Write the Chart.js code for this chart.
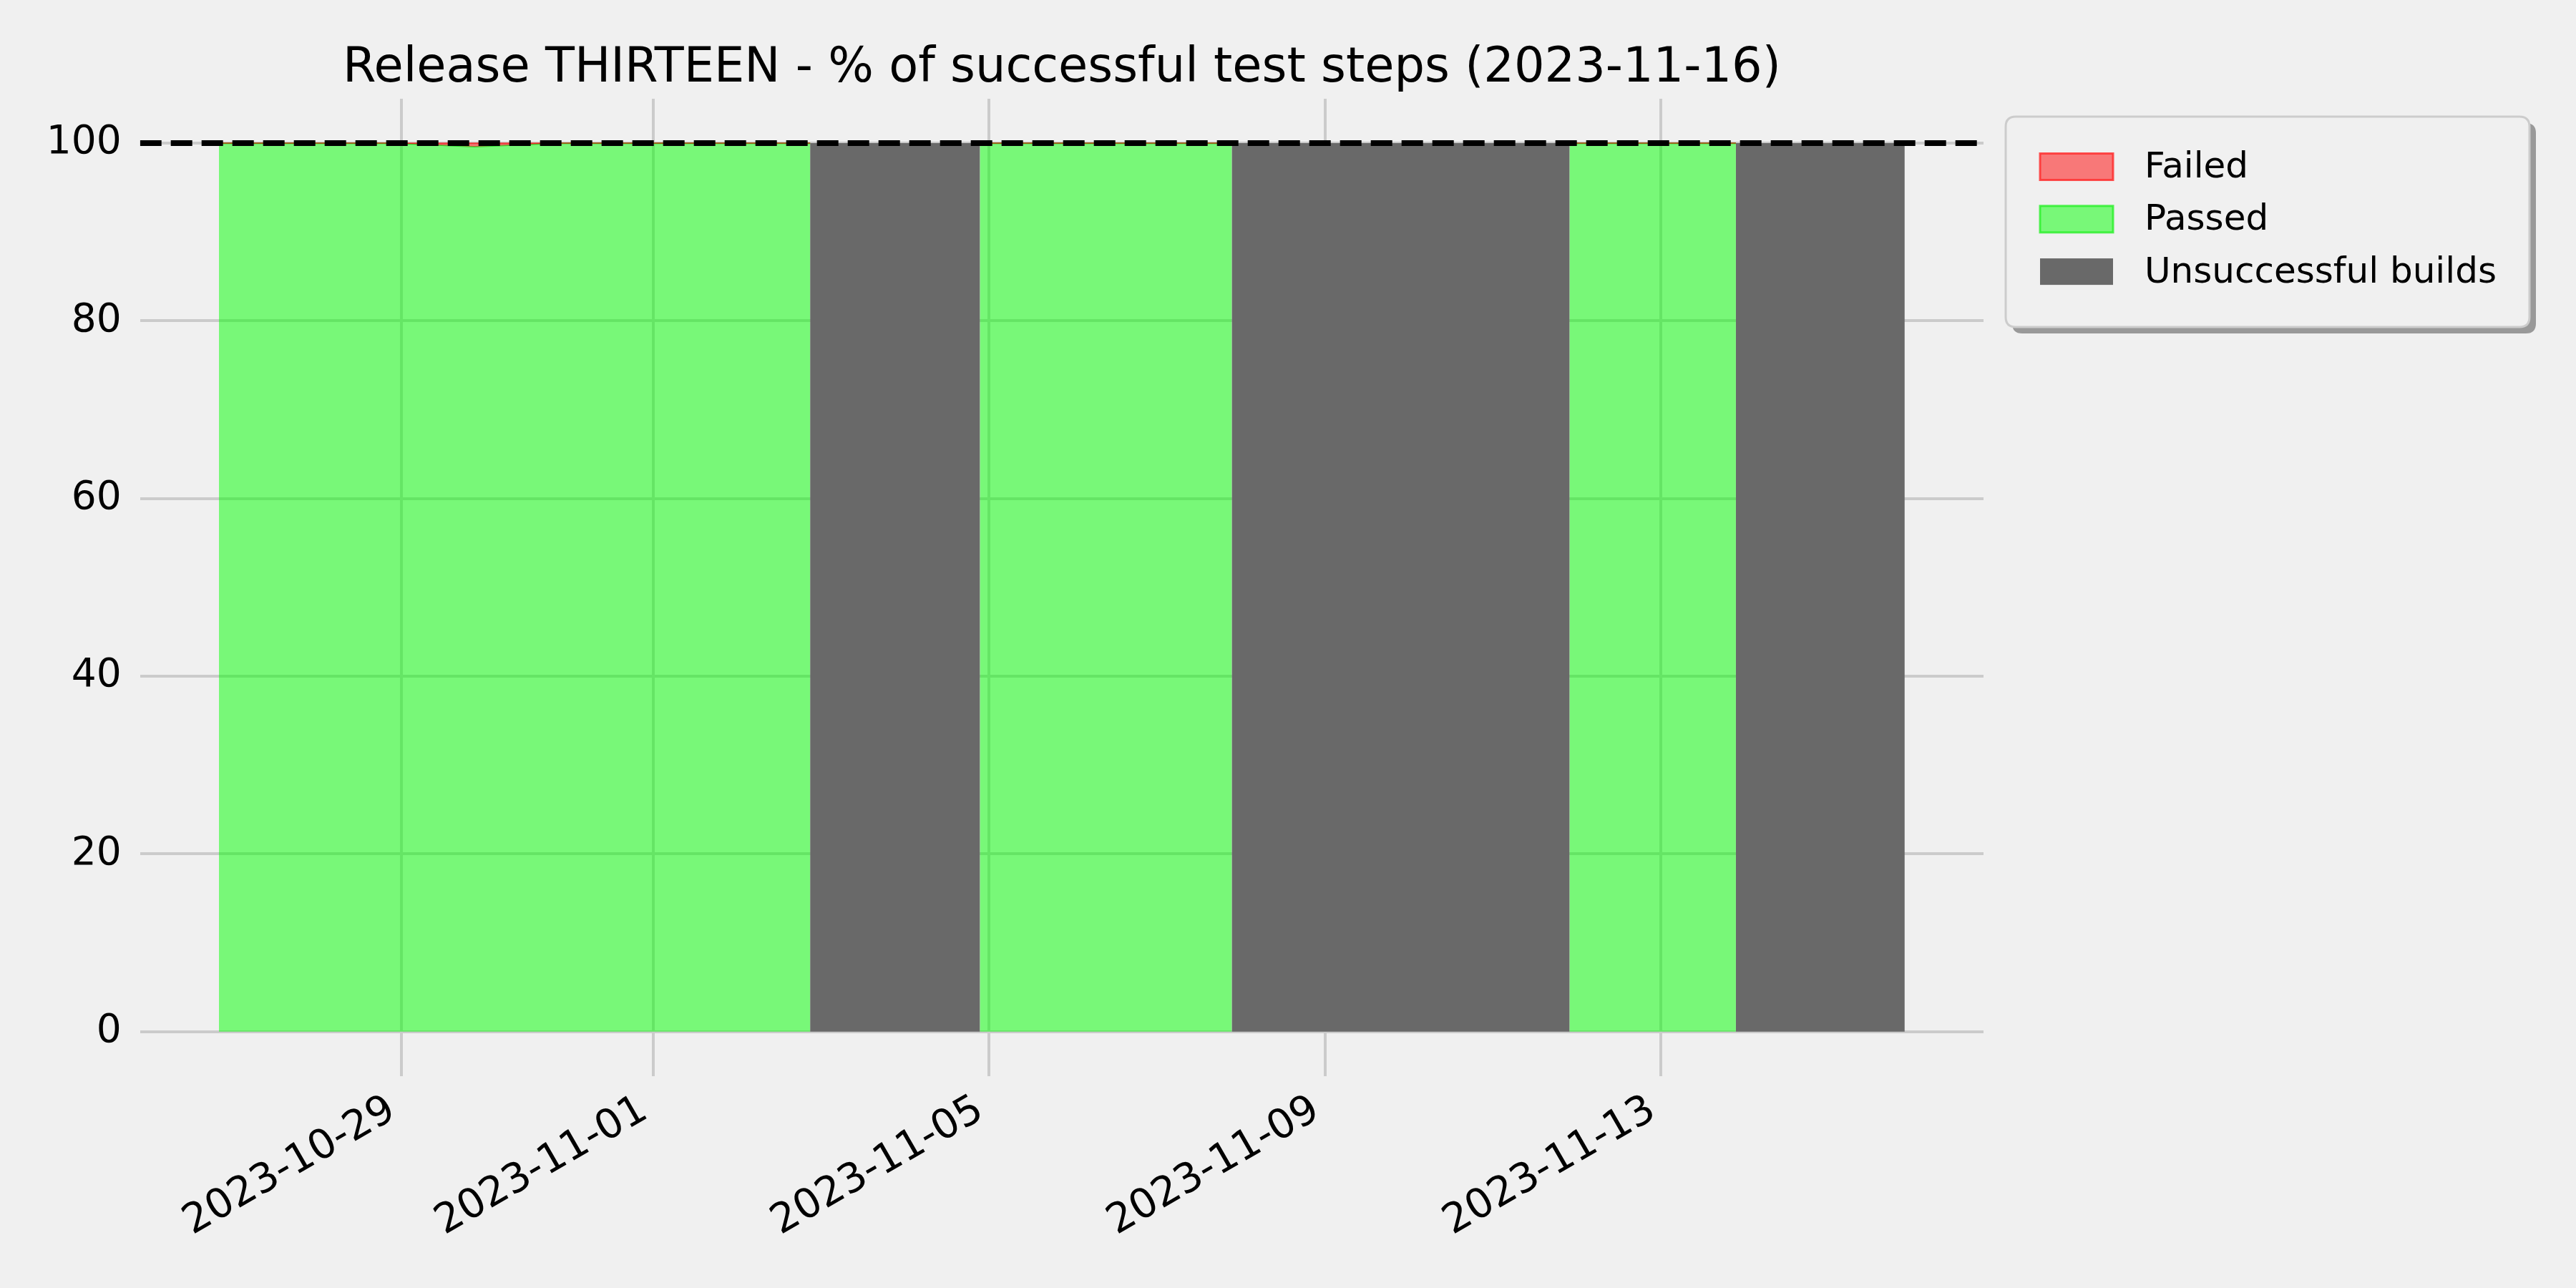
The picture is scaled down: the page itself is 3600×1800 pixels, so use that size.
<!DOCTYPE html>
<html>
<head>
<meta charset="utf-8">
<title>Release THIRTEEN</title>
<script src="https://cdn.jsdelivr.net/npm/chart.js@4.4.0/dist/chart.umd.min.js"></script>
<style>
  html, body { margin: 0; padding: 0; background: #f0f0f0; }
  canvas { display: block; }
</style>
</head>
<body>
<canvas id="myChart" width="3600" height="1800"></canvas>
<script>
// corner points of the stacked areas (UTC), a repeated time gives a vertical edge
const TIMES = [
  "2023-10-26T19:57", "2023-10-28T21:22", "2023-10-29T21:00", "2023-10-30T21:22",
  "2023-11-02T20:53", "2023-11-02T20:53", "2023-11-04T21:22", "2023-11-04T21:22",
  "2023-11-07T21:22", "2023-11-07T21:22", "2023-11-11T21:50", "2023-11-11T21:50",
  "2023-11-13T21:22", "2023-11-13T21:22", "2023-11-15T21:36"
];
const failed       = [0, 0, 0.4, 0, 0, 0, 0, 0, 0, 0, 0, 0, 0, 0, 0];
const passed       = [100, 100, 99.6, 100, 100, 0, 0, 100, 100, 0, 0, 100, 100, 0, 0];
const unsuccessful = [0, 0, 0, 0, 0, 100, 100, 0, 0, 100, 100, 0, 0, 100, 100];
const TARGET = 100;

const X_TICKS = ["2023-10-29", "2023-11-01", "2023-11-05", "2023-11-09", "2023-11-13"];
const Y_TICKS = [0, 20, 40, 60, 80, 100];
const X_RANGE = ["2023-10-25T21:25", "2023-11-16T20:07"];
const Y_RANGE = [-5, 105];

const toMs = s => Date.parse(s.length > 10 ? s + ":00Z" : s + "T00:00:00Z");
const xs = TIMES.map(toMs);

// stacked tops: unsuccessful at the bottom, then passed, then failed
const unsuccTop = unsuccessful.slice();
const passedTop = unsuccessful.map((u, i) => u + passed[i]);
const failedTop = passedTop.map((p, i) => p + failed[i]);
const pts = arr => arr.map((y, i) => ({ x: xs[i], y: y }));

// only draw the edge line where the area is not covered by a failed build
const onlyOnGreen = color => ({
  borderColor: c => (unsuccessful[c.p0DataIndex] === 0 && unsuccessful[c.p1DataIndex] === 0) ? color : 'rgba(0,0,0,0)'
});

Chart.defaults.font.family = "'DejaVu Sans', sans-serif";
Chart.defaults.color = '#000';

// legend box with shadow, like the matplotlib one
const legendBox = {
  id: 'legendBox',
  afterDraw(chart) {
    const ctx = chart.ctx;
    const x = 2803, y = 163, w = 732, h = 294, r = 14;
    const box = (ox, oy) => {
      ctx.beginPath();
      ctx.moveTo(ox + r, oy);
      ctx.lineTo(ox + w - r, oy);
      ctx.quadraticCurveTo(ox + w, oy, ox + w, oy + r);
      ctx.lineTo(ox + w, oy + h - r);
      ctx.quadraticCurveTo(ox + w, oy + h, ox + w - r, oy + h);
      ctx.lineTo(ox + r, oy + h);
      ctx.quadraticCurveTo(ox, oy + h, ox, oy + h - r);
      ctx.lineTo(ox, oy + r);
      ctx.quadraticCurveTo(ox, oy, ox + r, oy);
      ctx.closePath();
    };
    ctx.save();
    box(x + 9, y + 9);
    ctx.fillStyle = '#999999';
    ctx.fill();
    box(x, y);
    ctx.fillStyle = '#f0f0f0';
    ctx.fill();
    ctx.strokeStyle = '#cccccc';
    ctx.lineWidth = 3;
    ctx.stroke();

    const items = chart.data.datasets.filter(d => d.inLegend);
    items.forEach((d, i) => {
      const cy = 233 + i * 73.3;
      ctx.fillStyle = d.backgroundColor;
      ctx.fillRect(2851, cy - 18.5, 102, 37);
      if (d.legendEdge) {
        ctx.strokeStyle = d.legendEdge;
        ctx.lineWidth = 3;
        ctx.strokeRect(2851, cy - 18.5, 102, 37);
      }
      ctx.fillStyle = '#000';
      ctx.font = "50px 'DejaVu Sans'";
      ctx.textBaseline = 'middle';
      ctx.textAlign = 'left';
      ctx.fillText(d.label, 2997, cy + 2);
    });
    ctx.restore();
  }
};

const config = {
  type: 'line',
  data: {
    datasets: [
      {
        label: 'target',
        data: [{ x: toMs(X_RANGE[0]), y: TARGET }, { x: toMs(X_RANGE[1]), y: TARGET }],
        borderColor: '#000',
        borderWidth: 8,
        borderDash: [30, 13],
        borderCapStyle: 'butt',
        pointRadius: 0,
        fill: false
      },
      {
        label: 'Failed',
        inLegend: true,
        data: pts(failedTop),
        backgroundColor: 'rgba(255,0,0,0.5)',
        legendEdge: 'rgba(255,40,40,0.8)',
        borderColor: 'rgba(255,0,0,0.5)',
        borderWidth: 2,
        segment: onlyOnGreen('rgba(255,0,0,0.5)'),
        pointRadius: 0,
        fill: '+1'
      },
      {
        label: 'Passed',
        inLegend: true,
        data: pts(passedTop),
        backgroundColor: 'rgba(0,255,0,0.5)',
        legendEdge: 'rgba(40,240,40,0.8)',
        borderColor: 'rgba(0,200,0,0.6)',
        borderWidth: 2,
        segment: onlyOnGreen('rgba(0,200,0,0.6)'),
        pointRadius: 0,
        fill: '+1'
      },
      {
        label: 'Unsuccessful builds',
        inLegend: true,
        data: pts(unsuccTop),
        backgroundColor: '#696969',
        borderWidth: 0,
        pointRadius: 0,
        fill: 'origin'
      }
    ]
  },
  options: {
    responsive: false,
    animation: false,
    devicePixelRatio: 1,
    layout: { padding: { left: 0, right: 828, top: 0, bottom: 0 } },
    plugins: {
      legend: { display: false },
      tooltip: { enabled: false },
      title: {
        display: true,
        fullSize: false,
        text: 'Release THIRTEEN - % of successful test steps (2023-11-16)',
        color: '#000',
        font: { size: 67, weight: 'normal' },
        padding: { top: 56, bottom: 1.5 }
      }
    },
    scales: {
      x: {
        type: 'linear',
        min: toMs(X_RANGE[0]),
        max: toMs(X_RANGE[1]),
        afterBuildTicks: s => { s.ticks = X_TICKS.map(d => ({ value: toMs(d) })); },
        afterFit: s => { s.height = 296.2; },
        grid: { color: '#cbcbcb', lineWidth: 4, drawTicks: false },
        border: { display: false },
        ticks: {
          autoSkip: false,
          minRotation: 30,
          maxRotation: 30,
          padding: 14,
          labelOffset: -12,
          font: { size: 57 },
          callback: v => new Date(v).toISOString().slice(0, 10)
        }
      },
      y: {
        min: Y_RANGE[0],
        max: Y_RANGE[1],
        afterBuildTicks: s => { s.ticks = Y_TICKS.map(v => ({ value: v })); },
        afterFit: s => { s.width = 195.7; },
        grid: { color: '#cbcbcb', lineWidth: 4, drawTicks: false },
        border: { display: false },
        ticks: { padding: 26, font: { size: 55 } }
      }
    }
  },
  plugins: [legendBox]
};

const myChart = new Chart(document.getElementById('myChart'), config);
</script>
</body>
</html>
